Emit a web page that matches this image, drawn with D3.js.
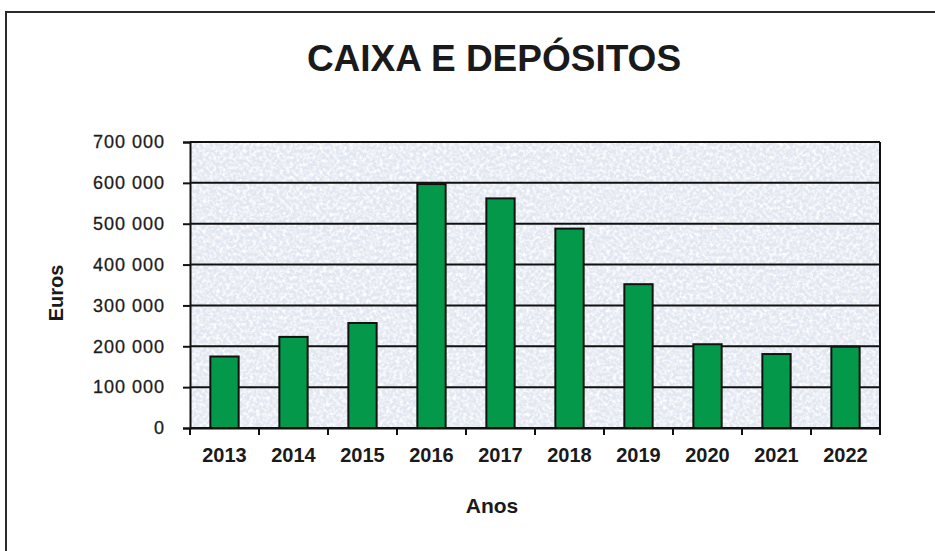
<!DOCTYPE html>
<html>
<head>
<meta charset="utf-8">
<script src="https://cdn.jsdelivr.net/npm/d3@7"></script>
<style>
  html, body { margin: 0; padding: 0; background: #fff; }
  svg { display: block; }
  text { font-family: "Liberation Sans", Arial, sans-serif; fill: #1a1a1a; }
</style>
</head>
<body>
<svg id="chart" width="935" height="551"></svg>
<script>
// Year-end cash and deposits, in euros
const years = ["2013", "2014", "2015", "2016", "2017", "2018", "2019", "2020", "2021", "2022"];
const values = [175000, 223000, 257000, 597000, 562000, 488000, 352000, 205000, 181000, 199000];
const yTicks = [0, 100000, 200000, 300000, 400000, 500000, 600000, 700000];
const titleText = "CAIXA E DEPÓSITOS";
const xTitle = "Anos";
const yTitle = "Euros";

const svg = d3.select("#chart");
const plot = { left: 190, right: 880, top: 142, bottom: 428 };

const x = d3.scaleBand()
  .domain(years)
  .range([plot.left, plot.right])
  .paddingInner(0.59)
  .paddingOuter(0.295);

const y = d3.scaleLinear()
  .domain([0, 700000])
  .range([plot.bottom, plot.top]);

// Thousands separated by a space, e.g. "600 000"
const fmt = v => d3.format(",")(v).replace(/,/g, " ");

// Page frame
svg.append("path")
  .attr("d", "M6,551 L6,12 L935,12")
  .attr("fill", "none")
  .attr("stroke", "#2a2a2a")
  .attr("stroke-width", 2);

// Textured plot background
const defs = svg.append("defs");
const grain = defs.append("filter")
  .attr("id", "grain")
  .attr("x", 0).attr("y", 0).attr("width", 1).attr("height", 1);
grain.append("feTurbulence")
  .attr("type", "fractalNoise")
  .attr("baseFrequency", 0.3)
  .attr("numOctaves", 3)
  .attr("seed", 7)
  .attr("result", "noise");
grain.append("feColorMatrix")
  .attr("in", "noise")
  .attr("type", "matrix")
  .attr("values", "0 0 0 0 1  0 0 0 0 1  0 0 0 0 1  2.4 0 0 0 -0.9");

svg.append("rect")
  .attr("x", plot.left).attr("y", plot.top)
  .attr("width", plot.right - plot.left)
  .attr("height", plot.bottom - plot.top)
  .attr("fill", "#e1e6f0");
svg.append("rect")
  .attr("x", plot.left).attr("y", plot.top)
  .attr("width", plot.right - plot.left)
  .attr("height", plot.bottom - plot.top)
  .attr("fill", "#fff")
  .attr("filter", "url(#grain)");

// Horizontal gridlines
svg.append("g")
  .selectAll("line")
  .data(yTicks)
  .join("line")
  .attr("x1", plot.left).attr("x2", plot.right)
  .attr("y1", d => y(d)).attr("y2", d => y(d))
  .attr("stroke", "#111")
  .attr("stroke-width", 2);

// Right border of the plot area
svg.append("line")
  .attr("x1", plot.right).attr("x2", plot.right)
  .attr("y1", plot.top).attr("y2", plot.bottom)
  .attr("stroke", "#111")
  .attr("stroke-width", 2);

// Bars
svg.append("g")
  .selectAll("rect")
  .data(years.map((yr, i) => ({ yr, v: values[i] })))
  .join("rect")
  .attr("x", d => x(d.yr))
  .attr("y", d => y(d.v))
  .attr("width", x.bandwidth())
  .attr("height", d => y(0) - y(d.v))
  .attr("fill", "#04994a")
  .attr("stroke", "#111")
  .attr("stroke-width", 2);

// Y axis
const yAxis = svg.append("g")
  .attr("transform", `translate(${plot.left},0)`)
  .call(d3.axisLeft(y).tickValues(yTicks).tickFormat(fmt).tickSize(7).tickPadding(18));
yAxis.select(".domain").attr("stroke", "#111").attr("stroke-width", 2);
yAxis.selectAll(".tick line").attr("stroke", "#111").attr("stroke-width", 2);
yAxis.selectAll(".tick text")
  .attr("font-size", 18)
  .attr("font-family", "'Liberation Sans', Arial, sans-serif")
  .attr("letter-spacing", 1)
  .attr("stroke", "#222")
  .attr("stroke-width", 0.3)
  .attr("fill", "#222");

// X axis: baseline, ticks between categories, year labels
const xAxis = svg.append("g")
  .attr("transform", `translate(0,${plot.bottom})`)
  .call(d3.axisBottom(x).tickSize(0).tickPadding(20));
xAxis.select(".domain").attr("stroke", "#111").attr("stroke-width", 2);
xAxis.selectAll(".tick text")
  .attr("font-size", 20)
  .attr("font-weight", "bold")
  .attr("font-family", "'Liberation Sans', Arial, sans-serif")
  .attr("fill", "#1a1a1a");

const boundaries = d3.range(years.length + 1).map(i => plot.left + i * x.step());
xAxis.append("g")
  .selectAll("line")
  .data(boundaries)
  .join("line")
  .attr("x1", d => d).attr("x2", d => d)
  .attr("y1", 0).attr("y2", 7)
  .attr("stroke", "#111")
  .attr("stroke-width", 2);

// Titles
svg.append("text")
  .attr("x", 494).attr("y", 71)
  .attr("text-anchor", "middle")
  .attr("font-size", 37)
  .attr("font-weight", "bold")
  .text(titleText);

svg.append("text")
  .attr("x", 492).attr("y", 513)
  .attr("text-anchor", "middle")
  .attr("font-size", 21)
  .attr("font-weight", "bold")
  .text(xTitle);

svg.append("text")
  .attr("transform", "translate(63,293) rotate(-90)")
  .attr("text-anchor", "middle")
  .attr("font-size", 20)
  .attr("font-weight", "bold")
  .text(yTitle);
</script>
</body>
</html>
